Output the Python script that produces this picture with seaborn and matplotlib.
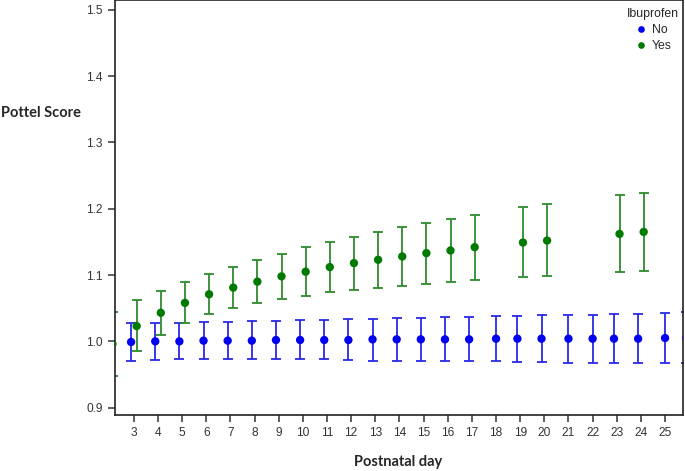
import numpy as np
import pandas as pd
import matplotlib
matplotlib.use("Agg")
import matplotlib.pyplot as plt
import seaborn as sns

# Set visualization style
sns.set_style("ticks")
plt.rcParams["font.family"] = ["Liberation Sans", "DejaVu Sans"]

# ---------------------------
# Data (mean and 95% CI)
# ---------------------------
no_days = [3, 4, 5, 6, 7, 8, 9, 10, 11, 12, 13, 14, 15, 16, 17, 18, 19, 20, 21, 22, 23, 24, 25, 26]
no_mean = [0.999, 1.000, 1.000, 1.001, 1.001, 1.001, 1.002, 1.002, 1.002, 1.002, 1.003, 1.003,
           1.003, 1.003, 1.003, 1.004, 1.004, 1.004, 1.004, 1.004, 1.004, 1.004, 1.005, 1.005]
no_upper = [1.028, 1.028, 1.028, 1.029, 1.029, 1.030, 1.031, 1.032, 1.032, 1.033, 1.034, 1.035,
            1.035, 1.036, 1.037, 1.038, 1.038, 1.039, 1.040, 1.040, 1.041, 1.041, 1.042, 1.044]
no_lower = [0.970, 0.972, 0.973, 0.973, 0.973, 0.973, 0.973, 0.973, 0.973, 0.972, 0.971, 0.971,
            0.971, 0.970, 0.970, 0.970, 0.969, 0.969, 0.968, 0.968, 0.968, 0.967, 0.967, 0.968]

yes_days = [2, 3, 4, 5, 6, 7, 8, 9, 10, 11, 12, 13, 14, 15, 16, 17, 19, 20, 23, 24]
yes_mean = [0.996, 1.023, 1.043, 1.058, 1.071, 1.081, 1.090, 1.098, 1.105, 1.112, 1.118, 1.123,
            1.128, 1.133, 1.137, 1.142, 1.149, 1.152, 1.162, 1.165]
yes_upper = [1.044, 1.062, 1.076, 1.089, 1.101, 1.112, 1.122, 1.132, 1.142, 1.150, 1.157, 1.165,
             1.172, 1.179, 1.185, 1.191, 1.202, 1.207, 1.220, 1.224]
yes_lower = [0.948, 0.985, 1.010, 1.028, 1.041, 1.050, 1.058, 1.064, 1.069, 1.074, 1.078, 1.081,
             1.084, 1.087, 1.090, 1.093, 1.097, 1.099, 1.104, 1.106]

# days on which both groups were measured (these get dodged)
both_days = [2, 3, 4, 5, 6, 7, 8, 9, 10, 11, 12, 13, 14, 15, 16, 17, 19, 20, 23, 24, 26]

day_ticks = list(range(3, 26))
y_ticks = [0.9, 1.0, 1.1, 1.2, 1.3, 1.4, 1.5]

colors = {"No": "#0000f0", "Yes": "#007a00"}
bar_colors = {"No": "#2a2ae6", "Yes": "#2e8b2e"}
dodge = 0.115

df_no = pd.DataFrame({"day": no_days, "mean": no_mean, "lo": no_lower, "hi": no_upper})
df_no["Ibuprofen"] = "No"
df_no["x"] = [d - dodge if d in both_days else d for d in no_days]
df_yes = pd.DataFrame({"day": yes_days, "mean": yes_mean, "lo": yes_lower, "hi": yes_upper})
df_yes["Ibuprofen"] = "Yes"
df_yes["x"] = [d + dodge if d in both_days else d for d in yes_days]
df = pd.concat([df_no, df_yes], ignore_index=True)

fig = plt.figure(figsize=(6.85, 4.71), dpi=100)
ax = fig.add_axes([0.1683, 0.119, 0.829, 0.880])

# error bars
for grp, sub in df.groupby("Ibuprofen"):
    ax.errorbar(sub["x"], sub["mean"],
                yerr=[sub["mean"] - sub["lo"], sub["hi"] - sub["mean"]],
                fmt="none", ecolor=bar_colors[grp], elinewidth=1.3,
                capsize=3.7, capthick=1.3, zorder=2)

# points
sns.scatterplot(data=df, x="x", y="mean", hue="Ibuprofen", hue_order=["No", "Yes"],
                palette=colors, s=36, linewidth=0, ax=ax, zorder=3)

ax.set_xlim(2.23, 25.75)
ax.set_ylim(0.889, 1.514)
ax.set_xticks(day_ticks)
ax.set_yticks(y_ticks)
ax.set_yticklabels([f"{v:.1f}" for v in y_ticks])

ax.tick_params(axis="both", labelsize=8.6, length=5, width=1.1, colors="#333333",
               labelcolor="#333333", pad=4)
for sp in ax.spines.values():
    sp.set_linewidth(1.2)
    sp.set_color("#222222")
    sp.set_visible(True)

ax.set_xlabel("Postnatal day", fontsize=10.5, fontweight="bold", family=["Lato", "DejaVu Sans"],
              va="center")
ax.set_ylabel("Pottel Score", fontsize=10.5, fontweight="bold", family=["Lato", "DejaVu Sans"],
              rotation=0, ha="left", va="center")
ax.xaxis.set_label_coords(0.4977, -0.113)
ax.yaxis.set_label_coords(-0.2013, 0.7277)

leg = ax.legend(title="Ibuprofen", loc="upper right", bbox_to_anchor=(1.005, 1.0),
                frameon=False, fontsize=8.8, title_fontsize=8.8, markerscale=0.8,
                handletextpad=0.3, labelspacing=0.35, borderaxespad=0.2, handlelength=1.2)

fig.savefig("out.png", dpi=100)
